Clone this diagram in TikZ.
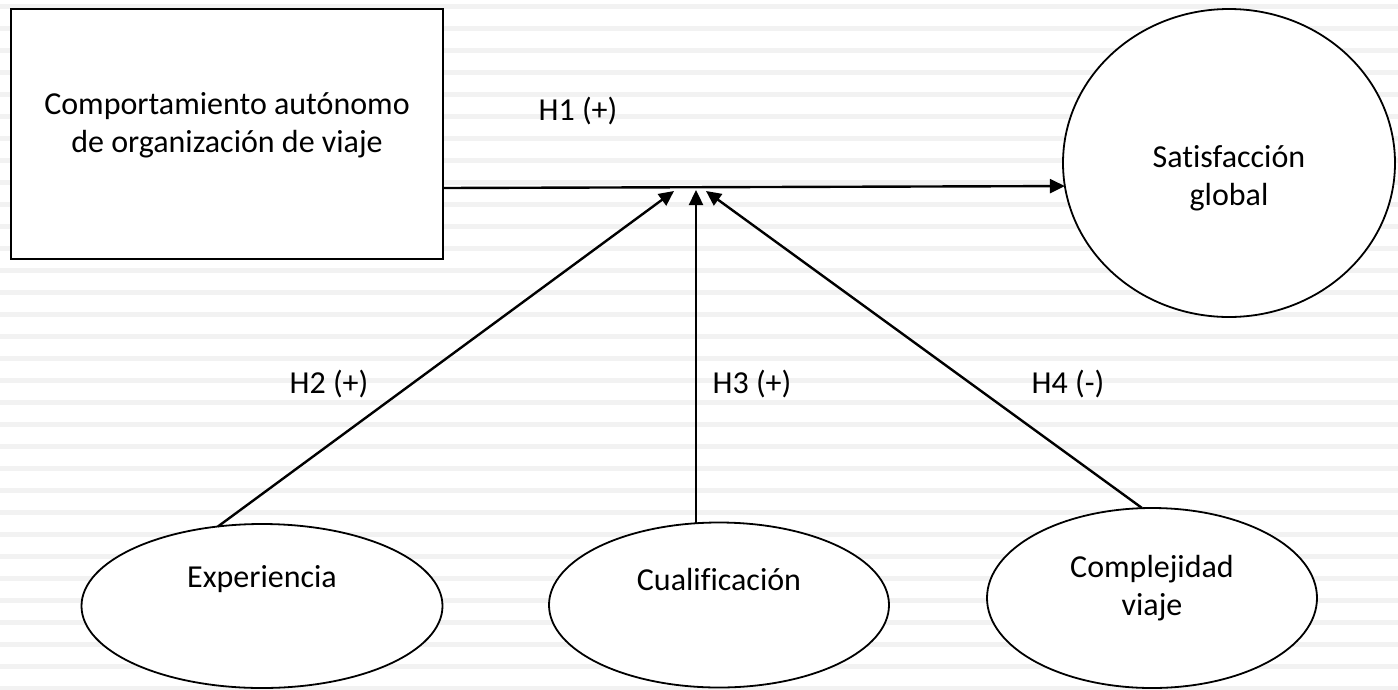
\documentclass[tikz,border=0pt]{standalone}
\usepackage{fontspec}
\setmainfont{Carlito}[Ligatures=NoCommon]
\usetikzlibrary{shapes.geometric,arrows.meta}
\definecolor{stripe}{HTML}{F2F2F2}
\tikzset{
  shapebox/.style={draw=black,line width=1.8pt,fill=white,inner sep=0pt,outer sep=0pt},
  oval/.style={ellipse,draw=black,line width=1.8pt,fill=white,inner sep=0pt,outer sep=0pt},
  txt/.style={font=\fontsize{32}{38}\selectfont,align=center,inner sep=0pt},
  conn/.style={line width=2.4pt,-{Triangle[length=15pt,width=14pt]}},
}
\begin{document}
\begin{tikzpicture}[x=1pt,y=-1pt]
\useasboundingbox (0,0) rectangle (1398,689);
\fill[white] (0,0) rectangle (1398,689);
\foreach \k in {0,...,31}{\fill[stripe] (0,{4+22*\k}) rectangle (1398,{8.7+22*\k});}

\node[shapebox,minimum width=432pt,minimum height=250pt] (box) at (227,134) {};
\node[txt] (boxtext) at (227,125) {Comportamiento autónomo\\de organización de viaje};

\node[oval,minimum width=332pt,minimum height=308pt] (sat) at (1229,163) {};
\node[txt] (sattext) at (1229,178) {Satisfacción\\global};

\node[oval,minimum width=361pt,minimum height=164pt] (exp) at (262,606) {};
\node[txt] (exptext) at (262,579) {Experiencia};

\node[oval,minimum width=340pt,minimum height=165pt] (cual) at (719,605) {};
\node[txt] (cualtext) at (719,579) {Cualificación};

\node[oval,minimum width=330pt,minimum height=180pt] (comp) at (1152,598) {};
\node[txt] (comptext) at (1152,588) {Complejidad\\viaje};

\coordinate (t2) at (674,191);
\coordinate (t3) at (696,190);
\coordinate (t4) at (706,191);

\draw[conn] ([yshift=-54pt]box.east) -- (sat.188.7);
\draw[conn] (exp.119.5) -- (t2);
\draw[conn] ([xshift=-23pt]cual.north) -- (t3);
\draw[conn] ([xshift=-10pt]comp.north) -- (t4);

\node[txt] (h1) at (578,111) {H1 (+)};
\node[txt] (h2) at (329,384) {H2 (+)};
\node[txt] (h3) at (752,384) {H3 (+)};
\node[txt] (h4) at (1068,384) {H4 (-)};
\end{tikzpicture}
\end{document}
